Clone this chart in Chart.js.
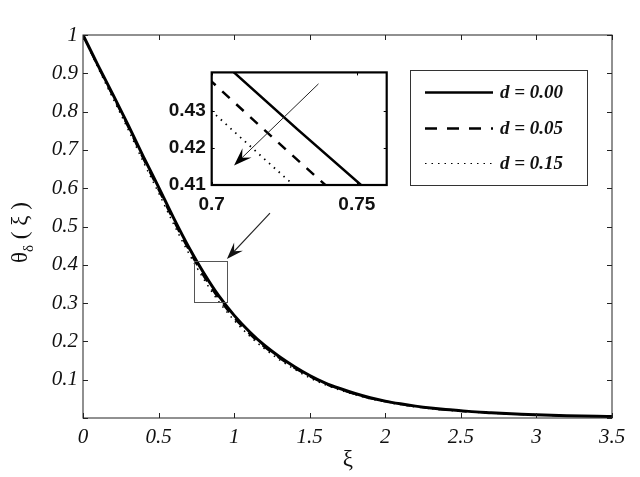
<!DOCTYPE html>
<html>
<head>
<meta charset="utf-8">
<title>theta delta</title>
<script src="https://cdn.jsdelivr.net/npm/chart.js@4.4.0/dist/chart.umd.min.js"></script>
<style>
    html, body { margin: 0; padding: 0; background: #fff; }
    #wrap { position: relative; width: 640px; height: 477px; overflow: hidden; }
    #mainChart { position: absolute; left: 0; top: 0; }
    #insetChart { position: absolute; left: 150px; top: 55px; }
</style>
</head>
<body>
<div id="wrap">
    <canvas id="mainChart" width="640" height="477"></canvas>
    <canvas id="insetChart" width="250" height="165"></canvas>
</div>
<script>
// Data
const xi = [0, 0.1, 0.2, 0.3, 0.4, 0.5, 0.6, 0.7, 0.8, 0.9,
            1.0, 1.1, 1.2, 1.3, 1.4, 1.5, 1.6, 1.7, 1.8, 1.9,
            2.0, 2.1, 2.2, 2.3, 2.4, 2.5, 2.6, 2.7, 2.8, 2.9,
            3.0, 3.1, 3.2, 3.3, 3.4, 3.5];
const theta00 = [1.000, 0.920, 0.843, 0.764, 0.682, 0.603, 0.522, 0.446, 0.378, 0.318,
                 0.268, 0.226, 0.190, 0.160, 0.134, 0.111, 0.092, 0.077, 0.064, 0.053,
                 0.044, 0.037, 0.031, 0.026, 0.022, 0.019, 0.016, 0.014, 0.012, 0.010,
                 0.0085, 0.0072, 0.0061, 0.0052, 0.0044, 0.0037];
const theta05 = [1.000, 0.917, 0.838, 0.758, 0.675, 0.595, 0.514, 0.438, 0.369, 0.310,
                 0.261, 0.220, 0.185, 0.156, 0.130, 0.108, 0.089, 0.075, 0.062, 0.051,
                 0.043, 0.036, 0.030, 0.025, 0.021, 0.018, 0.0155, 0.0135, 0.0115, 0.0097,
                 0.0082, 0.0070, 0.0059, 0.0050, 0.0043, 0.0036];
const theta15 = [1.000, 0.914, 0.833, 0.752, 0.668, 0.588, 0.506, 0.430, 0.362, 0.303,
                 0.255, 0.215, 0.181, 0.152, 0.127, 0.105, 0.087, 0.073, 0.061, 0.050,
                 0.042, 0.035, 0.029, 0.0245, 0.0205, 0.0175, 0.015, 0.013, 0.011, 0.0094,
                 0.008, 0.0068, 0.0058, 0.0049, 0.0042, 0.0035];
const seriesLabels = ['d = 0.00', 'd = 0.05', 'd = 0.15'];
const xTicks = [0, 0.5, 1, 1.5, 2, 2.5, 3, 3.5];
const yTicks = [0, 0.1, 0.2, 0.3, 0.4, 0.5, 0.6, 0.7, 0.8, 0.9, 1];
const insetXTicks = [0.7, 0.75];
const insetYTicks = [0.41, 0.42, 0.43];

const SERIF = '"Liberation Serif", "Times New Roman", serif';
const SANS = '"Liberation Sans", Arial, sans-serif';

function points(arr) {
    return xi.map((x, i) => ({ x: x, y: arr[i] }));
}

function makeDatasets(widths) {
    const styles = [
        { data: theta00, dash: [], width: widths[0], order: 0 },
        { data: theta05, dash: [10, 9], width: widths[1], order: 1 },
        { data: theta15, dash: [1.5, 5], width: widths[2], order: 2 }
    ];
    return styles.map((s, i) => ({
        label: seriesLabels[i],
        data: points(s.data),
        borderColor: '#000',
        borderWidth: s.width,
        borderDash: s.dash,
        pointRadius: 0,
        fill: false,
        cubicInterpolationMode: 'monotone',
        order: s.order
    }));
}

function fmt(v) {
    return String(Number(v.toFixed(2)));
}

function line(ctx, x0, y0, x1, y1) {
    ctx.beginPath();
    ctx.moveTo(x0, y0);
    ctx.lineTo(x1, y1);
    ctx.stroke();
}

function drawArrow(ctx, x0, y0, x1, y1, headLen, headW) {
    const ang = Math.atan2(y1 - y0, x1 - x0);
    line(ctx, x0, y0, x1 - Math.cos(ang) * headLen * 0.6, y1 - Math.sin(ang) * headLen * 0.6);
    ctx.save();
    ctx.translate(x1, y1);
    ctx.rotate(ang);
    ctx.beginPath();
    ctx.moveTo(0, 0);
    ctx.lineTo(-headLen, -headW / 2);
    ctx.lineTo(-headLen * 0.62, 0);
    ctx.lineTo(-headLen, headW / 2);
    ctx.closePath();
    ctx.fill();
    ctx.restore();
}

// Box round the plot with inward ticks on all four sides
const framePlugin = {
    id: 'frame',
    afterDraw(chart, args, opts) {
        const ctx = chart.ctx;
        const { left, right, top, bottom } = chart.chartArea;
        const xs = chart.scales.x, ys = chart.scales.y;
        const L = opts.tickLen;
        ctx.save();
        ctx.strokeStyle = opts.color;
        ctx.lineWidth = opts.tickWidth;
        xs.ticks.forEach(t => {
            const px = Math.round(xs.getPixelForValue(t.value)) + 0.5;
            line(ctx, px, bottom, px, bottom - L);
            line(ctx, px, top, px, top + L);
        });
        ys.ticks.forEach(t => {
            const py = Math.round(ys.getPixelForValue(t.value)) + 0.5;
            line(ctx, left, py, left + L, py);
            line(ctx, right, py, right - L, py);
        });
        ctx.lineWidth = opts.lineWidth;
        ctx.strokeRect(left, top, right - left, bottom - top);
        ctx.restore();
    }
};

// Zoom box, arrow, legend and axis titles of the main plot
const mainDecor = {
    id: 'mainDecor',
    afterDatasetsDraw(chart) {
        const ctx = chart.ctx;
        const xs = chart.scales.x, ys = chart.scales.y;
        ctx.save();

        // zoom box
        const bx0 = xs.getPixelForValue(0.735), bx1 = xs.getPixelForValue(0.953);
        const by0 = ys.getPixelForValue(0.41), by1 = ys.getPixelForValue(0.303);
        ctx.strokeStyle = '#555';
        ctx.lineWidth = 1;
        ctx.strokeRect(Math.round(bx0) + 0.5, Math.round(by0) + 0.5, Math.round(bx1 - bx0), Math.round(by1 - by0));

        // arrow toward the box
        ctx.strokeStyle = '#222';
        ctx.fillStyle = '#111';
        ctx.lineWidth = 1.2;
        drawArrow(ctx, xs.getPixelForValue(1.237), ys.getPixelForValue(0.535),
                  xs.getPixelForValue(0.952), ys.getPixelForValue(0.415), 17, 12);

        // legend
        const lx = 410.5, ly = 70.5, lw = 177, lh = 115;
        ctx.fillStyle = '#fff';
        ctx.fillRect(lx, ly, lw, lh);
        ctx.strokeStyle = '#333';
        ctx.lineWidth = 1;
        ctx.strokeRect(lx, ly, lw, lh);
        const rows = [92.5, 128.5, 163.5];
        const legendStyles = [
            { dash: [], width: 2.5 },
            { dash: [12, 10], width: 2.5 },
            { dash: [1.5, 5], width: 1.2 }
        ];
        chart.data.datasets.forEach((ds, i) => {
            ctx.strokeStyle = '#000';
            ctx.lineWidth = legendStyles[i].width;
            ctx.setLineDash(legendStyles[i].dash);
            line(ctx, 425, rows[i], 493, rows[i]);
            ctx.setLineDash([]);
            ctx.fillStyle = '#111';
            ctx.font = 'italic bold 19px ' + SERIF;
            ctx.textAlign = 'left';
            ctx.textBaseline = 'middle';
            ctx.fillText(ds.label, 500, rows[i] + 1);
        });

        // x title
        ctx.fillStyle = '#111';
        ctx.font = '23px ' + SERIF;
        ctx.textAlign = 'center';
        ctx.textBaseline = 'middle';
        ctx.fillText('ξ', 348, 460);

        // y title with subscript, rotated
        ctx.translate(27, 263);
        ctx.rotate(-Math.PI / 2);
        ctx.textAlign = 'left';
        ctx.textBaseline = 'alphabetic';
        ctx.font = '23px ' + SERIF;
        ctx.fillText('θ', 0, 0);
        let w = ctx.measureText('θ').width;
        ctx.font = '15px ' + SERIF;
        ctx.fillText('δ', w, 6);
        w += ctx.measureText('δ').width;
        ctx.font = '23px ' + SERIF;
        ctx.fillText(' ( ξ )', w, 0);
        ctx.restore();
    }
};

// Arrow inside the inset
const insetDecor = {
    id: 'insetDecor',
    afterDatasetsDraw(chart) {
        const ctx = chart.ctx;
        const xs = chart.scales.x, ys = chart.scales.y;
        ctx.save();
        ctx.strokeStyle = '#222';
        ctx.fillStyle = '#000';
        ctx.lineWidth = 1;
        drawArrow(ctx, xs.getPixelForValue(0.7368), ys.getPixelForValue(0.4374),
                  xs.getPixelForValue(0.7077), ys.getPixelForValue(0.4153), 18, 13);
        ctx.restore();
    }
};

function initializeMainChart() {
    const el = document.getElementById('mainChart');
    new Chart(el, {
        type: 'line',
        data: { datasets: makeDatasets([3, 1.8, 1.5]) },
        options: {
            responsive: false,
            animation: false,
            events: [],
            layout: { padding: { top: 35, right: 28, left: 0, bottom: 0 } },
            plugins: {
                legend: { display: false },
                tooltip: { enabled: false },
                frame: { color: '#222', lineWidth: 1, tickWidth: 1, tickLen: 5 }
            },
            scales: {
                x: {
                    type: 'linear',
                    min: 0,
                    max: 3.5,
                    afterBuildTicks: scale => { scale.ticks = xTicks.map(v => ({ value: v })); },
                    afterFit: scale => { scale.height = 59; },
                    grid: { display: false, drawTicks: false },
                    border: { display: false },
                    ticks: {
                        autoSkip: false,
                        maxRotation: 0,
                        padding: 7,
                        color: '#111',
                        font: { family: SERIF, size: 21, style: 'italic' },
                        callback: v => fmt(v)
                    }
                },
                y: {
                    type: 'linear',
                    min: 0,
                    max: 1,
                    afterBuildTicks: scale => { scale.ticks = yTicks.map(v => ({ value: v })); },
                    afterFit: scale => { scale.width = 83; },
                    grid: { display: false, drawTicks: false },
                    border: { display: false },
                    ticks: {
                        autoSkip: false,
                        padding: 5,
                        color: '#111',
                        font: { family: SERIF, size: 21, style: 'italic' },
                        callback: v => (v === 0 ? '' : fmt(v))
                    }
                }
            }
        },
        plugins: [framePlugin, mainDecor]
    });
}

function initializeInsetChart() {
    const el = document.getElementById('insetChart');
    new Chart(el, {
        type: 'line',
        data: { datasets: makeDatasets([2.5, 2.5, 1.8]) },
        options: {
            responsive: false,
            animation: false,
            events: [],
            layout: { padding: { top: 14.3, right: 13.3, left: 0, bottom: 0 } },
            plugins: {
                legend: { display: false },
                tooltip: { enabled: false },
                frame: { color: '#000', lineWidth: 2.2, tickWidth: 1, tickLen: 3 }
            },
            scales: {
                x: {
                    type: 'linear',
                    min: 0.7,
                    max: 0.7603,
                    afterBuildTicks: scale => { scale.ticks = insetXTicks.map(v => ({ value: v })); },
                    afterFit: scale => { scale.height = 35; },
                    grid: { display: false, drawTicks: false },
                    border: { display: false },
                    ticks: {
                        autoSkip: false,
                        maxRotation: 0,
                        padding: 8,
                        color: '#111',
                        font: { family: SANS, size: 19, weight: 'bold' },
                        callback: v => fmt(v)
                    }
                },
                y: {
                    type: 'linear',
                    min: 0.41,
                    max: 0.4405,
                    afterBuildTicks: scale => { scale.ticks = insetYTicks.map(v => ({ value: v })); },
                    afterFit: scale => { scale.width = 61.7; },
                    grid: { display: false, drawTicks: false },
                    border: { display: false },
                    ticks: {
                        autoSkip: false,
                        padding: 6,
                        color: '#111',
                        font: { family: SANS, size: 19, weight: 'bold' },
                        callback: v => fmt(v)
                    }
                }
            }
        },
        plugins: [framePlugin, insetDecor]
    });
}

document.addEventListener('DOMContentLoaded', function() {
    initializeMainChart();
    initializeInsetChart();
});
</script>
</body>
</html>
